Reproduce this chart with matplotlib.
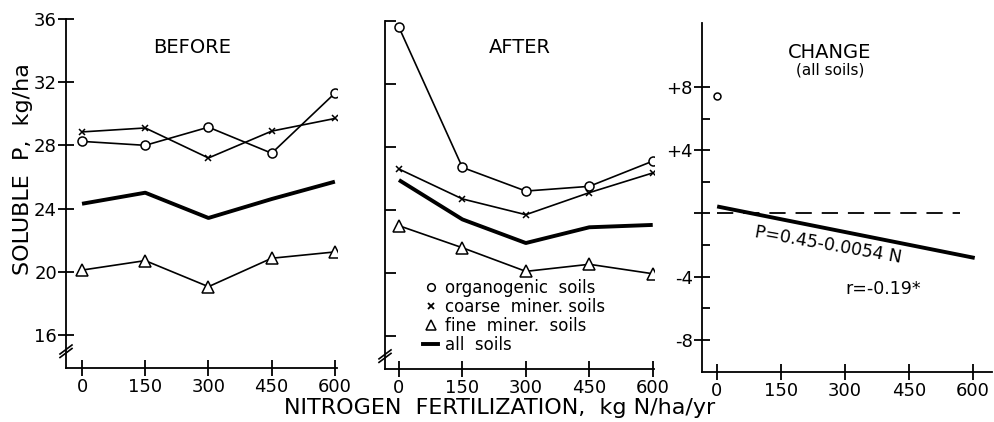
import numpy as np
import matplotlib
matplotlib.use('Agg')
import matplotlib.pyplot as plt
from matplotlib.lines import Line2D

# ── data ──
N_levels = [0, 150, 300, 450, 600]

before_org    = [28.25, 28.0, 29.15, 27.5, 31.3]
before_coarse = [28.85, 29.1, 27.2, 28.9, 29.7]
before_fine   = [20.1, 20.7, 19.05, 20.85, 21.25]
before_all    = [24.3, 25.0, 23.4, 24.6, 25.7]

after_org    = [35.6, 26.7, 25.2, 25.5, 27.1]
after_coarse = [26.6, 24.7, 23.7, 25.1, 26.35]
after_fine   = [23.0, 21.6, 20.1, 20.55, 19.95]
after_all    = [25.9, 23.4, 21.9, 22.9, 23.05]

change_N = [0]
change_val = [7.45]
reg_N = [5, 600]
reg_P = [0.42, -2.79]
zero_N = [0, 570]

y_ticks_p = [16, 20, 24, 28, 32, 36]
change_ticks = [-8, -4, 0, 4, 8]
change_labels = ['-8', '-4', '', '+4', '+8']
change_minor = [-6, -2, 2, 6]

W, H = 995, 422
FONT = 'DejaVu Sans'
plt.rcParams['font.family'] = FONT

fig = plt.figure(figsize=(W / 100, H / 100), dpi=100)
fig.patch.set_facecolor('white')


def px_box(l, t, r, b):
    return [l / W, 1 - b / H, (r - l) / W, (b - t) / H]


def style(ax):
    for s in ('top', 'right'):
        ax.spines[s].set_visible(False)
    for s in ('left', 'bottom'):
        ax.spines[s].set_linewidth(1.3)
    ax.tick_params(axis='x', direction='inout', length=11, width=1.3,
                   labelsize=13, pad=2)
    ax.set_xticks(N_levels)


def break_mark(ax, yfrac):
    w = 6.0 / (ax.get_position().width * W)
    h = 4.5 / (ax.get_position().height * H)
    for dy in (0, 0.010):
        ax.plot([-w, w], [yfrac - h + dy, yfrac + h + dy], color='black',
                lw=1.2, transform=ax.transAxes, clip_on=False)


def draw_set(ax, org, coarse, fine, allsoils):
    kw = dict(color='black', lw=1.2, mfc='white', mec='black', mew=1.1)
    ax.plot(N_levels, org, marker='o', ms=6.5, **kw)
    ax.plot(N_levels, coarse, marker='x', ms=5, **kw)
    ax.plot(N_levels, fine, marker='^', ms=8, **kw)
    ax.plot(N_levels, allsoils, color='black', lw=2.8, solid_capstyle='butt')


# ── BEFORE ──
ax1 = fig.add_axes(px_box(66, 19, 337, 368))
style(ax1)
draw_set(ax1, before_org, before_coarse, before_fine, before_all)
ax1.set_xlim(-38, 605)
ax1.set_ylim(13.9, 36)
ax1.set_yticks(y_ticks_p)
ax1.tick_params(axis='y', direction='inout', length=11, width=1.3,
                labelsize=13, pad=1)
ax1.text(261, 34.2, 'BEFORE', ha='center', va='center', fontsize=14)
break_mark(ax1, 0.043)

# ── AFTER ──
ax2 = fig.add_axes(px_box(385, 21, 654, 369))
style(ax2)
draw_set(ax2, after_org, after_coarse, after_fine, after_all)
ax2.set_xlim(-33, 603)
ax2.set_ylim(13.9, 36)
ax2.set_yticks(y_ticks_p)
ax2.set_yticklabels([])
ax2.tick_params(axis='y', direction='in', length=8, width=1.3)
ax2.text(286, 34.3, 'AFTER', ha='center', va='center', fontsize=14)
break_mark(ax2, 0.032)

handles = [
    Line2D([], [], ls='none', marker='o', ms=5.5, mfc='white', mec='black', mew=1.1),
    Line2D([], [], ls='none', marker='x', ms=4.5, mec='black', mew=1.3),
    Line2D([], [], ls='none', marker='^', ms=7.5, mfc='white', mec='black', mew=1.1),
    Line2D([], [], color='black', lw=2.8),
]
labels = ['organogenic  soils', 'coarse  miner. soils', 'fine  miner.  soils', 'all  soils']
ax2.legend(handles, labels, loc='upper left', bbox_to_anchor=(57, 19.6),
           bbox_transform=ax2.transData, frameon=False, fontsize=12,
           handlelength=0.9, handletextpad=0.4, labelspacing=0.05,
           borderpad=0, borderaxespad=0)

# ── CHANGE ──
ax3 = fig.add_axes(px_box(702, 23, 992, 372))
style(ax3)
ax3.set_xlim(-35, 645)
ax3.set_ylim(-10.03, 12.05)
ax3.set_yticks(change_ticks)
ax3.set_yticklabels(change_labels)
ax3.set_yticks(change_minor, minor=True)
ax3.tick_params(axis='y', which='major', direction='inout', length=11,
                width=1.3, labelsize=13, pad=1)
ax3.tick_params(axis='y', which='minor', direction='in', length=6, width=1.3)
ax3.plot(change_N, change_val, ls='none', marker='o', ms=5,
         mfc='white', mec='black', mew=1.1)
ax3.plot(zero_N, [0, 0], color='black', lw=1.3, dashes=(9, 5.5))
ax3.plot(reg_N, reg_P, color='black', lw=2.8)
ax3.text(265, 10.2, 'CHANGE', ha='center', va='center', fontsize=14)
ax3.text(265, 9.05, '(all soils)', ha='center', va='center', fontsize=11)
ax3.text(262, -2.0, 'P=0.45-0.0054 N', ha='center', va='center',
         fontsize=12.5, rotation=-10)
ax3.text(389, -4.8, 'r=-0.19*', ha='center', va='center', fontsize=12.5)

# ── axis titles ──
fig.text(23 / W, 1 - 169 / H, 'SOLUBLE  P,  kg/ha', rotation=90,
         ha='center', va='center', fontsize=16)
fig.text(500 / W, 1 - 408 / H, 'NITROGEN  FERTILIZATION,  kg N/ha/yr',
         ha='center', va='center', fontsize=16)

fig.savefig('out.png', dpi=100, facecolor='white')
plt.close()
